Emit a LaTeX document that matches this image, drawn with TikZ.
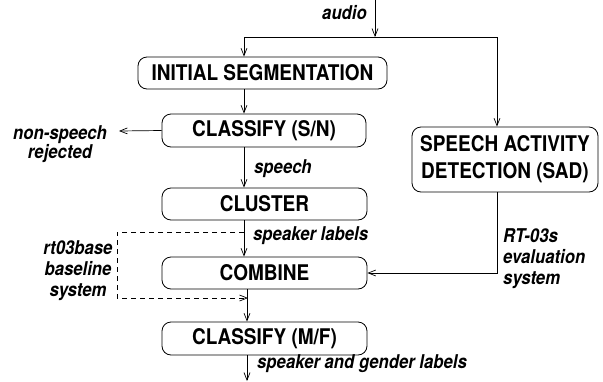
\documentclass[tikz,border=0pt]{standalone}
\usepackage{fontspec}
\setmainfont{TeX Gyre Heros}[FakeStretch=0.88]
\usetikzlibrary{arrows.meta}
\newcommand\boxf{\bfseries\fontsize{21.6}{27}\selectfont}
\newcommand\labf{\bfseries\itshape\fontsize{19}{21}\selectfont}
\begin{document}
\begin{tikzpicture}[x=1pt,y=-1pt,
  box/.style={draw, rounded corners=9pt, line width=0.8pt, inner sep=0pt, font=\boxf, align=center},
  lab/.style={font=\labf, inner sep=0pt},
  arr/.style={-{Straight Barb[length=7.5pt,width=6pt]}, line width=0.7pt},
  dsh/.style={dash pattern=on 5pt off 4pt, line width=0.7pt}]
\useasboundingbox (0,0) rectangle (603,381);
% nodes
\node[box, minimum width=249, minimum height=32] (init) at (262.5,73) {INITIAL SEGMENTATION};
\node[box, minimum width=204, minimum height=33] (csn) at (264,130.5) {CLASSIFY (S/N)};
\node[box, minimum width=205, minimum height=32] (cluster) at (264.5,204) {CLUSTER};
\node[box, minimum width=205, minimum height=32] (combine) at (264.5,273) {COMBINE};
\node[box, minimum width=205, minimum height=33] (cmf) at (264.5,338.5) {CLASSIFY (M/F)};
\node[box, minimum width=186, minimum height=65] (sad) at (505,159.5) {SPEECH ACTIVITY\\DETECTION (SAD)};
% coordinates
\coordinate (cx) at (244,0);
\coordinate (cxb) at (247,0);
\coordinate (cs) at (497,0);
\coordinate (in) at (375,0);
\coordinate (j) at (375,37);
\coordinate (ns) at (119,131);
\coordinate (d1) at (244,232);
\coordinate (d2) at (117,232);
\coordinate (d3) at (248,298);
\coordinate (out) at (247,381);
% labels
\node[lab, anchor=base east] (audio) at (367,19) {audio};
\node[lab, anchor=base west] (speech) at (254,173) {speech};
\node[lab, anchor=base west] (spk) at (253,240) {speaker labels};
\node[lab, anchor=base west] (spg) at (257,368) {speaker and gender labels};
\node[lab, align=center, anchor=north, font=\bfseries\itshape\fontsize{19}{16}\selectfont] (nsp) at (60,125) {non-speech\\rejected};
\node[lab, align=center, anchor=north] (rt) at (78,240) {rt03base\\baseline\\system};
\node[lab, align=left, anchor=north west] (eval) at (503,228) {RT-03s\\evaluation\\system};
% connectors
\draw[arr] (in) -- (j);
\draw[arr] (j) -| (init.north -| cx);
\draw[arr] (j) -| (sad.north -| cs);
\draw[arr] (init.south -| cx) -- (csn.north -| cx);
\draw[arr] (csn.west) -- (ns);
\draw[arr] (csn.south -| cx) -- (cluster.north -| cx);
\draw[arr] (cluster.south -| cx) -- (combine.north -| cx);
\draw[arr] (combine.south -| cxb) -- (cmf.north -| cxb);
\draw[arr] (cmf.south -| cxb) -- (out);
\draw[arr] (sad.south -| cs) |- (combine.east);
\draw[dsh, arr] (d1) -- (d2) |- (d3);
\end{tikzpicture}
\end{document}
